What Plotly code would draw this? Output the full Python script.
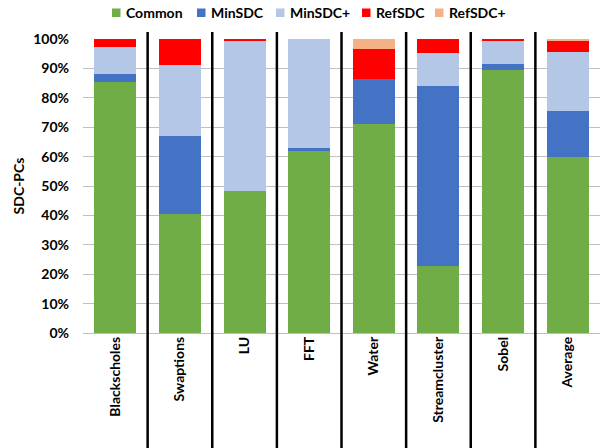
import plotly.graph_objects as go

categories = ["Blackscholes", "Swaptions", "LU", "FFT", "Water", "Streamcluster", "Sobel", "Average"]
common = [85.5, 40.6, 48.2, 61.8, 71.2, 22.8, 89.4, 59.9]
min_sdc = [2.6, 26.3, 0.0, 1.0, 15.3, 61.2, 2.1, 15.7]
min_sdc_plus = [9.2, 24.2, 51.1, 37.2, 0.0, 11.1, 8.0, 20.0]
ref_sdc = [2.7, 8.9, 0.7, 0.0, 10.1, 4.9, 0.5, 3.8]
ref_sdc_plus = [0.0, 0.0, 0.0, 0.0, 3.4, 0.0, 0.0, 0.6]

series_names = ["Common", "MinSDC", "MinSDC+", "RefSDC", "RefSDC+"]
series_values = [common, min_sdc, min_sdc_plus, ref_sdc, ref_sdc_plus]
series_colors = ["#70AD47", "#4472C4", "#B4C7E7", "#FF0000", "#F4B183"]

FONT = "Lato"
W, H = 600, 448
L, R, T, B = 83, 0, 39, 115
PW, PH = W - L - R, H - T - B

def px_x(px):
    return (px - L) / PW

def px_y(py):
    return (H - B - py) / PH

fig = go.Figure()
for name, vals, col in zip(series_names, series_values, series_colors):
    fig.add_trace(go.Bar(x=categories, y=vals, name=name,
                         marker=dict(color=col, line=dict(width=0))))

shapes = []
for i in range(len(categories) - 1):
    shapes.append(dict(type="line", xref="x", yref="paper", x0=i + 0.5, x1=i + 0.5,
                       y0=-0.40, y1=1.024, line=dict(color="black", width=2.5)))

# manual legend (layout positions in pixels)
legend_square_px = [112, 197, 276, 362, 435]
annotations = []
for name, col, sx in zip(series_names, series_colors, legend_square_px):
    shapes.append(dict(type="rect", xref="paper", yref="paper",
                       x0=px_x(sx), x1=px_x(sx + 8.5), y0=px_y(17), y1=px_y(8.5),
                       fillcolor=col, line=dict(width=0)))
    annotations.append(dict(text=name, xref="paper", yref="paper", x=px_x(sx + 11.5),
                            y=px_y(13), xanchor="left", yanchor="middle", showarrow=False,
                            font=dict(family=FONT, size=14, color="black", weight="bold")))

fig.update_layout(
    barmode="stack",
    bargap=0.35,
    width=W, height=H,
    margin=dict(l=L, r=R, t=T, b=B),
    paper_bgcolor="white", plot_bgcolor="white",
    font=dict(family=FONT, size=13, color="black"),
    showlegend=False,
    shapes=shapes,
    annotations=annotations,
    xaxis=dict(tickangle=-90, showgrid=False, showline=False, ticks="",
               tickfont=dict(family=FONT, size=14, color="black", weight="bold"),
               range=[-0.5, len(categories) - 0.5], automargin=False),
    yaxis=dict(range=[0, 100], dtick=10, ticksuffix="%", showgrid=True, gridcolor="#BFBFBF",
               gridwidth=1, zeroline=True, zerolinecolor="#BFBFBF", zerolinewidth=1,
               showline=False, ticks="", ticklabelstandoff=13, automargin=False,
               tickfont=dict(family=FONT, size=14, color="black", weight="bold"),
               title=dict(text="SDC-PCs", standoff=5,
                          font=dict(family=FONT, size=14, color="black", weight="bold"))),
)

fig.write_html("out.html", config={"displayModeBar": False},
               post_script="document.body.style.margin='0';document.body.style.overflow='hidden';")
